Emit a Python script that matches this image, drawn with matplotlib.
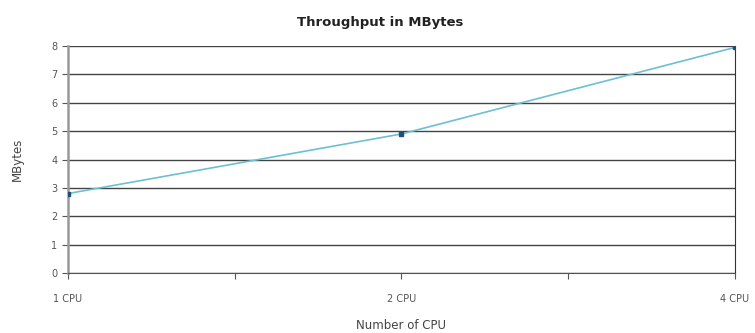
import numpy as np
import matplotlib.pyplot as plt

# data
cpus = ["1 CPU", "2 CPU", "4 CPU"]
mbytes = [2.8, 4.9, 7.95]

fig = plt.figure(figsize=(7.55, 3.33), dpi=100)
ax = fig.add_axes([0.090, 0.180, 0.8835, 0.682])

x = np.arange(len(cpus))
ax.plot(x, mbytes, color="#6cc0cf", lw=1.2, zorder=3)
ax.plot(x, mbytes, ls="none", marker="s", ms=3.5, color="#1f4f78", zorder=4)

ax.set_xlim(0, len(cpus) - 1)
ax.set_ylim(0, 8)
ax.set_yticks(range(0, 9))
ax.yaxis.grid(True, color="#444444", lw=1.0)
ax.set_axisbelow(True)

# ticks between categories, labels only on categories
pos = np.arange(0, len(cpus) - 0.99, 0.5)
ax.set_xticks(pos)
ax.set_xticklabels([cpus[int(t)] if t == int(t) else "" for t in pos])
ax.tick_params(axis="both", labelsize=7, colors="#555555", length=4, width=0.8)
ax.tick_params(axis="x", pad=11)

ax.spines["top"].set_visible(False)
ax.spines["left"].set_color("#999999")
ax.spines["left"].set_linewidth(1.8)
ax.spines["bottom"].set_color("#555555")
ax.spines["right"].set_color("#333333")

ax.set_ylabel("MBytes", fontsize=8.5, color="#444444", labelpad=20)
ax.set_xlabel("Number of CPU", fontsize=8.5, color="#444444", labelpad=11)
fig.text(0.503, 0.931, "Throughput in MBytes", ha="center", va="center",
         fontsize=9.5, fontweight="bold", color="#222222")

fig.savefig("out.png", dpi=100)
